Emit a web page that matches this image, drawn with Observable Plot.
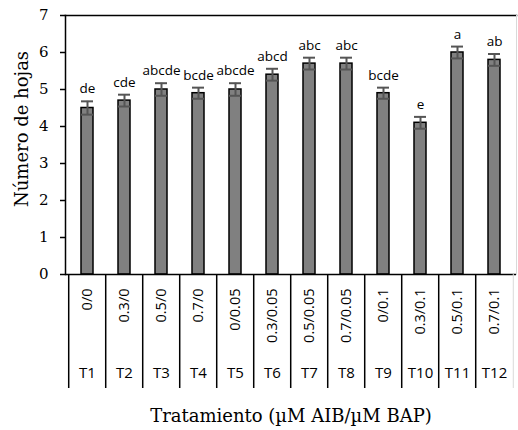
<!DOCTYPE html>
<html>
<head>
<meta charset="utf-8">
<script src="https://cdn.jsdelivr.net/npm/d3@7"></script>
<script src="https://cdn.jsdelivr.net/npm/@observablehq/plot@0.6"></script>
<style>
  html, body { margin: 0; padding: 0; background: white; }
</style>
</head>
<body>
<div id="chart"></div>
<script>
const treatments = ["T1","T2","T3","T4","T5","T6","T7","T8","T9","T10","T11","T12"];
const ratios = ["0/0","0.3/0","0.5/0","0.7/0","0/0.05","0.3/0.05","0.5/0.05","0.7/0.05","0/0.1","0.3/0.1","0.5/0.1","0.7/0.1"];
const leaves = [4.5, 4.7, 5.0, 4.9, 5.0, 5.4, 5.7, 5.7, 4.9, 4.1, 6.0, 5.8];
const errors = [0.18, 0.16, 0.17, 0.15, 0.17, 0.16, 0.16, 0.16, 0.15, 0.16, 0.16, 0.16];
const letters = ["de","cde","abcde","bcde","abcde","abcd","abc","abc","bcde","e","a","ab"];
const yTicks = [0, 1, 2, 3, 4, 5, 6, 7];
const yTitle = "Número de hojas";
const xTitle = "Tratamiento (µM AIB/µM BAP)";

const data = treatments.map((t, i) => ({
  t, ratio: ratios[i], v: leaves[i], e: errors[i], lo: leaves[i] - errors[i], hi: leaves[i] + errors[i], letter: letters[i]
}));
const ratioOf = new Map(data.map(d => [d.t, d.ratio]));

const W = 518, H = 430, mL = 65, mR = 2, mT = 15, mB = 156;
const step = (W - mL - mR) / treatments.length;
const sans = "'Open Sans', sans-serif";
const serif = "'DejaVu Serif', serif";

const chart = Plot.plot({
  width: W,
  height: H,
  marginLeft: mL,
  marginRight: mR,
  marginTop: mT,
  marginBottom: mB,
  style: { background: "white", color: "black", overflow: "visible" },
  x: { type: "band", domain: treatments, paddingInner: 0.68, paddingOuter: 0.34, axis: null },
  y: { domain: [0, 7], axis: null },
  marks: [
    Plot.frame({ anchor: "top", stroke: "black", strokeWidth: 1.5 }),
    Plot.frame({ anchor: "right", stroke: "#d9d9d9", strokeWidth: 1 }),
    Plot.barY(data, { x: "t", y: "v", fill: "#808080", stroke: "black", strokeWidth: 1.5 }),
    Plot.ruleX(data, { x: "t", y1: "lo", y2: "hi", stroke: "#555555", strokeWidth: 2 }),
    Plot.tickY(data, { x: "t", y: "hi", stroke: "#555555", strokeWidth: 2 }),
    Plot.tickY(data, { x: "t", y: "lo", stroke: "#555555", strokeWidth: 2 }),
    Plot.text(data, { x: "t", y: "hi", text: "letter", dy: -8, lineAnchor: "bottom", fontFamily: sans, fontSize: 13.5, fill: "black" }),
    Plot.axisY({ ticks: yTicks, tickSize: 5, tickPadding: 12, tickFormat: d => String(d), fontFamily: serif, fontSize: 15, stroke: "black", strokeWidth: 1.5, fill: "black", label: null }),
    Plot.frame({ anchor: "left", stroke: "black", strokeWidth: 1.5 }),
    Plot.ruleY([0], { stroke: "black", strokeWidth: 1.5 }),
    // separators of the category table below the axis
    Plot.axisX({ tickSize: 114, dx: -step / 2, tickFormat: () => "", stroke: "black", strokeWidth: 1.5, label: null }),
    Plot.axisX(["T12"], { tickSize: 114, dx: step / 2, tickFormat: () => "", stroke: "#d9d9d9", strokeWidth: 1, label: null }),
    // rotated treatment ratios
    Plot.axisX({ tickSize: 0, tickRotate: -90, tickPadding: 14, tickFormat: d => ratioOf.get(d), fontFamily: sans, fontSize: 14.5, fill: "black", label: null }),
    // treatment codes
    Plot.axisX({ tickSize: 0, tickPadding: 93, tickFormat: d => d, fontFamily: sans, fontSize: 15, fill: "black", label: null }),
    Plot.text([xTitle], { frameAnchor: "bottom", dy: 142, lineAnchor: "middle", fontFamily: serif, fontSize: 18, fill: "black" }),
    Plot.text([yTitle], { frameAnchor: "left", rotate: -90, dx: -43, dy: 62, lineAnchor: "middle", fontFamily: serif, fontSize: 18, fill: "black" })
  ]
});
document.getElementById("chart").appendChild(chart);
</script>
</body>
</html>
